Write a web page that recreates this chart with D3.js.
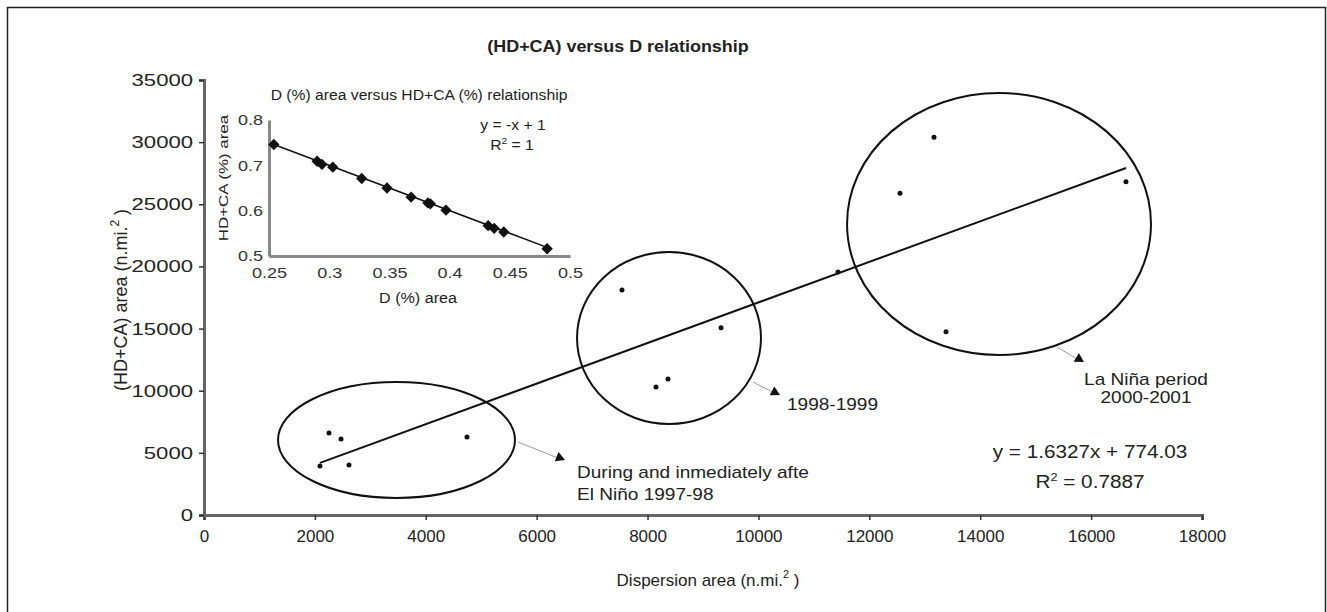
<!DOCTYPE html>
<html>
<head>
<meta charset="utf-8">
<script src="https://cdn.jsdelivr.net/npm/d3@7"></script>
<style>
  body { margin: 0; background: #fff; }
  svg { display: block; font-family: "Liberation Sans", Arial, sans-serif; }
</style>
</head>
<body>
<svg id="chart" width="1327" height="612"></svg>
<script>
// main scatter: dispersion area (x) vs HD+CA area (y), n.mi.^2
const dispersion = [2092, 2254, 2471, 2615, 4743, 7539, 8152, 8369, 9325, 11435, 12553, 13166, 13383, 16629]
const hdca = [3943, 6598, 6115, 4023, 6276, 18103, 10299, 10943, 15070, 19552, 25884, 30389, 14748, 26818]
const xTicks = [0, 2000, 4000, 6000, 8000, 10000, 12000, 14000, 16000, 18000]
const yTicks = [0, 5000, 10000, 15000, 20000, 25000, 30000, 35000]
const fit = { slope: 1.6327, intercept: 774.03 }

// inset: D (%) vs HD+CA (%)
const insetD = [0.254, 0.290, 0.294, 0.303, 0.327, 0.348, 0.368, 0.382, 0.384, 0.397, 0.432, 0.437, 0.445, 0.481]
const insetHdca = [0.746, 0.709, 0.702, 0.696, 0.671, 0.650, 0.630, 0.617, 0.615, 0.601, 0.567, 0.561, 0.553, 0.516]
const insetXTicks = [0.25, 0.3, 0.35, 0.4, 0.45, 0.5]
const insetYTicks = [0.5, 0.6, 0.7, 0.8]

// groups circled on the chart (centre and radii in data units)
const groups = [
  { cx: 3472, cy: 6034, rx: 2137, ry: 4667, from: [5663, 5874], to: [6475, 4425],
    label: ['During and inmediately afte', 'El Niño 1997-98'], lx: 6727, ly: [2977, 1207], anchor: 'start' },
  { cx: 8387, cy: 14241, rx: 1659, ry: 6920, from: [9902, 10701], to: [10353, 9655],
    label: ['1998-1999'], lx: 10515, ly: [8448], anchor: 'start' },
  { cx: 14339, cy: 23414, rx: 2741, ry: 10540, from: [15385, 13517], to: [15836, 12310],
    label: ['La Niña period', '2000-2001'], lx: 16990, ly: [10460, 9011], anchor: 'middle' }
]

const svg = d3.select('#chart')

// stretch text sideways a little, the scan is wider than the font
function widen(sel, k) {
  sel.each(function() {
    const w = this.getComputedTextLength()
    d3.select(this).attr('textLength', w * k).attr('lengthAdjust', 'spacingAndGlyphs')
  })
}

svg.append('rect')
  .attr('x', 7.5).attr('y', 7.5)
  .attr('width', 1318).attr('height', 620)
  .attr('fill', 'none')
  .attr('stroke', '#222')
  .attr('stroke-width', 1.5)

const x = d3.scaleLinear().domain([0, 18000]).range([204, 1202])
const y = d3.scaleLinear().domain([0, 35000]).range([515, 80])

const title = svg.append('text')
  .attr('x', 618).attr('y', 52)
  .attr('text-anchor', 'middle')
  .attr('font-size', 16).attr('font-weight', 'bold')
  .attr('fill', '#222')
  .text('(HD+CA) versus D relationship')
widen(title, 1.12)

// axes
const xAxis = svg.append('g')
  .attr('transform', 'translate(0,' + y(0) + ')')
  .call(d3.axisBottom(x).tickValues(xTicks).tickSize(5).tickPadding(10).tickFormat(d3.format('d')))
const yAxis = svg.append('g')
  .attr('transform', 'translate(' + x(0) + ',0)')
  .call(d3.axisLeft(y).tickValues(yTicks).tickSize(5).tickPadding(6).tickFormat(d3.format('d')))

;[xAxis, yAxis].forEach((g) => {
  g.select('.domain').attr('stroke', '#666').attr('stroke-width', 3)
  g.selectAll('.tick line').attr('stroke', '#333').attr('stroke-width', 1.5)
  g.selectAll('.tick text').attr('fill', '#222').attr('font-size', 17).attr('font-family', '"Liberation Sans", Arial, sans-serif')
})
widen(yAxis.selectAll('.tick text'), 1.3)

const xLab = svg.append('text')
  .attr('x', 708).attr('y', 586)
  .attr('text-anchor', 'middle')
  .attr('font-size', 17)
  .attr('fill', '#222')
xLab.append('tspan').text('Dispersion area (n.mi.')
xLab.append('tspan').attr('dy', -8).attr('font-size', 11).text('2')
xLab.append('tspan').attr('dy', 8).text(' )')

const yLab = svg.append('text')
  .attr('transform', 'translate(127,300) rotate(-90)')
  .attr('text-anchor', 'middle')
  .attr('font-size', 18)
  .attr('fill', '#222')
yLab.append('tspan').text('(HD+CA) area (n.mi.')
yLab.append('tspan').attr('dy', -8).attr('font-size', 12).text('2')
yLab.append('tspan').attr('dy', 8).text(' )')

// regression line over the data range
const xMin = d3.min(dispersion), xMax = d3.max(dispersion)
svg.append('line')
  .attr('x1', x(xMin)).attr('y1', y(fit.slope * xMin + fit.intercept))
  .attr('x2', x(xMax)).attr('y2', y(fit.slope * xMax + fit.intercept))
  .attr('stroke', '#111').attr('stroke-width', 2)

// ellipses + arrows + labels
groups.forEach((gr) => {
  svg.append('ellipse')
    .attr('cx', x(gr.cx)).attr('cy', y(gr.cy))
    .attr('rx', x(gr.rx) - x(0)).attr('ry', y(0) - y(gr.ry))
    .attr('fill', 'none').attr('stroke', '#111').attr('stroke-width', 2)

  const x1 = x(gr.from[0]), y1 = y(gr.from[1]), x2 = x(gr.to[0]), y2 = y(gr.to[1])
  svg.append('line')
    .attr('x1', x1).attr('y1', y1).attr('x2', x2).attr('y2', y2)
    .attr('stroke', '#999').attr('stroke-width', 1)
  const ang = Math.atan2(y2 - y1, x2 - x1) * 180 / Math.PI
  svg.append('path')
    .attr('d', 'M0,0L-9,-5L-9,5Z')
    .attr('transform', 'translate(' + (x2 + 2) + ',' + y2 + ') rotate(' + ang + ')')
    .attr('fill', '#111')

  gr.label.forEach((t, i) => {
    const lab = svg.append('text')
      .attr('x', x(gr.lx)).attr('y', y(gr.ly[i]))
      .attr('text-anchor', gr.anchor)
      .attr('font-size', 17).attr('fill', '#222')
      .text(t)
    widen(lab, 1.12)
  })
})

// points
svg.append('g').selectAll('circle')
  .data(dispersion)
  .enter().append('circle')
    .attr('cx', (d) => x(d))
    .attr('cy', (d, i) => y(hdca[i]))
    .attr('r', 2.5)
    .attr('fill', '#111')

// equation
const eq = svg.append('text')
  .attr('x', x(15980)).attr('y', y(4586))
  .attr('text-anchor', 'middle').attr('font-size', 18).attr('fill', '#222')
  .text('y = 1.6327x + 774.03')
widen(eq, 1.15)
const r2 = svg.append('text')
  .attr('x', x(15980)).attr('y', y(2172))
  .attr('text-anchor', 'middle').attr('font-size', 18).attr('fill', '#222')
r2.append('tspan').text('R')
r2.append('tspan').attr('dy', -7).attr('font-size', 11).text('2')
r2.append('tspan').attr('dy', 7).text(' = 0.7887')
widen(r2, 1.15)

// ---- inset ----
const ix = d3.scaleLinear().domain([0.25, 0.5]).range([269, 570])
const iy = d3.scaleLinear().domain([0.5, 0.8]).range([256, 120])

const iTitle = svg.append('text')
  .attr('x', 419).attr('y', 100)
  .attr('text-anchor', 'middle').attr('font-size', 14).attr('fill', '#222')
  .text('D (%) area versus HD+CA (%) relationship')
widen(iTitle, 1.12)

const ixAxis = svg.append('g')
  .attr('transform', 'translate(0,' + iy(0.5) + ')')
  .call(d3.axisBottom(ix).tickValues(insetXTicks).tickSize(0).tickPadding(11).tickFormat((d) => d3.format('')(d)))
const iyAxis = svg.append('g')
  .attr('transform', 'translate(' + ix(0.25) + ',0)')
  .call(d3.axisLeft(iy).tickValues(insetYTicks).tickSize(0).tickPadding(6).tickFormat((d) => d3.format('')(d)))
;[ixAxis, iyAxis].forEach((g) => {
  g.select('.domain').attr('stroke', '#888').attr('stroke-width', 3)
  g.selectAll('.tick text').attr('fill', '#333').attr('font-size', 15).attr('font-family', '"Liberation Sans", Arial, sans-serif')
  widen(g.selectAll('.tick text'), 1.2)
})

const ixLab = svg.append('text')
  .attr('x', 418).attr('y', 303)
  .attr('text-anchor', 'middle').attr('font-size', 14).attr('fill', '#222')
  .text('D (%) area')
widen(ixLab, 1.15)
const iyLab = svg.append('text')
  .attr('transform', 'translate(228,178) rotate(-90)')
  .attr('text-anchor', 'middle').attr('font-size', 13).attr('fill', '#222')
  .text('HD+CA (%) area')
widen(iyLab, 1.3)

const iMin = d3.min(insetD), iMax = d3.max(insetD)
svg.append('line')
  .attr('x1', ix(iMin)).attr('y1', iy(1 - iMin))
  .attr('x2', ix(iMax)).attr('y2', iy(1 - iMax))
  .attr('stroke', '#111').attr('stroke-width', 1.5)

svg.append('g').selectAll('path')
  .data(insetD)
  .enter().append('path')
    .attr('d', d3.symbol().type(d3.symbolSquare).size(64))
    .attr('transform', (d, i) => 'translate(' + ix(d) + ',' + iy(insetHdca[i]) + ') rotate(45)')
    .attr('fill', '#111')

const ieq = svg.append('text')
  .attr('x', 513).attr('y', 130)
  .attr('text-anchor', 'middle').attr('font-size', 14).attr('fill', '#222')
  .text('y = -x + 1')
widen(ieq, 1.12)
const ir2 = svg.append('text')
  .attr('x', 512).attr('y', 150)
  .attr('text-anchor', 'middle').attr('font-size', 14).attr('fill', '#222')
ir2.append('tspan').text('R')
ir2.append('tspan').attr('dy', -6).attr('font-size', 9).text('2')
ir2.append('tspan').attr('dy', 6).text(' = 1')
widen(ir2, 1.12)
</script>
</body>
</html>
